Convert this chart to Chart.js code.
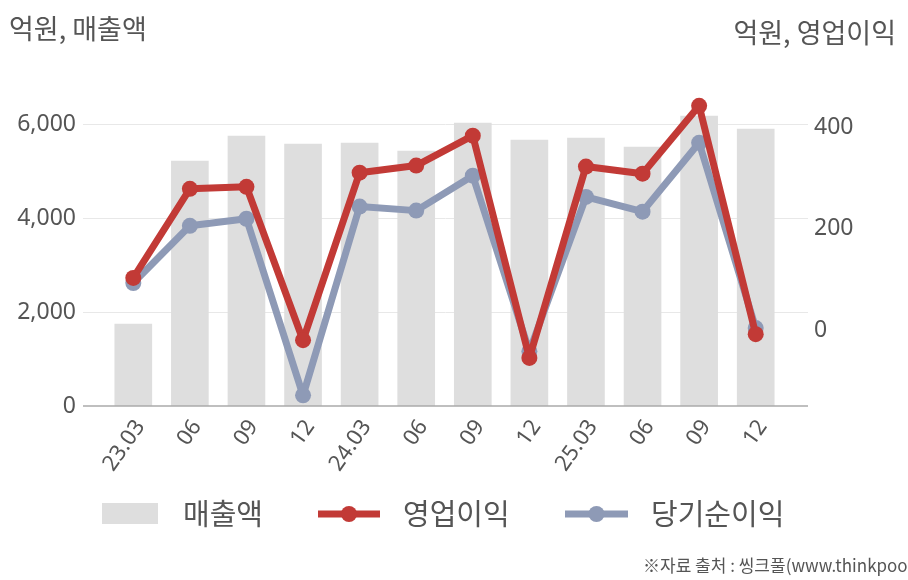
<!DOCTYPE html>
<html>
<head>
<meta charset="utf-8">
<script src="https://cdn.jsdelivr.net/npm/chart.js@4/dist/chart.umd.min.js"></script>
<style>
  html, body { margin: 0; padding: 0; background: #fff; }
  #wrap { width: 908px; height: 580px; }
</style>
</head>
<body>
<div id="wrap"><canvas id="chart" width="908" height="580"></canvas></div>
<script>
"use strict";

const quarters = ['23.03', '06', '09', '12', '24.03', '06', '09', '12', '25.03', '06', '09', '12'];
const revenue = [1745, 5213, 5745, 5574, 5596, 5426, 6021, 5660, 5702, 5511, 6170, 5894];
const operatingProfit = [103, 279, 283, -20, 311, 325, 384, -55, 323, 309, 443, -8];
const netProfit = [93, 206, 220, -129, 244, 236, 305, -42, 263, 234, 370, 4];
const leftTicks = [0, 2000, 4000, 6000];
const rightTicks = [0, 200, 400];

const textColor = '#555';
const numFont = '"Noto Sans", sans-serif';
const krFont = '"Noto Sans CJK KR", sans-serif';
const barColor = '#dedede';
const redColor = '#c23a36';
const blueColor = '#8e9ab6';

// grid lines reach a bit past the plot, so draw them ourselves
const extras = {
  id: 'extras',
  beforeDatasetsDraw: (chart) => {
    const { ctx } = chart;
    const y = chart.scales.y;
    ctx.save();
    ctx.strokeStyle = '#e8e8e8';
    ctx.lineWidth = 1;
    leftTicks.slice(1).forEach((v) => {
      const py = Math.round(y.getPixelForValue(v)) + 0.5;
      ctx.beginPath();
      ctx.moveTo(83, py);
      ctx.lineTo(808, py);
      ctx.stroke();
    });
    ctx.restore();
  },
  afterDatasetsDraw: (chart) => {
    const { ctx } = chart;
    const py = chart.scales.y.getPixelForValue(0);
    ctx.save();
    ctx.strokeStyle = '#aaa';
    ctx.lineWidth = 1.5;
    ctx.beginPath();
    ctx.moveTo(83, py);
    ctx.lineTo(808, py);
    ctx.stroke();
    ctx.restore();
  },
  afterDraw: (chart) => {
    const { ctx } = chart;
    ctx.save();
    ctx.fillStyle = textColor;
    ctx.textBaseline = 'middle';
    ctx.font = '27px ' + krFont;
    ctx.textAlign = 'left';
    ctx.fillText('억원, 매출액', 9, 29);
    ctx.textAlign = 'right';
    ctx.fillText('억원, 영업이익', 896, 33);

    // legend
    const ly = 514;
    ctx.fillStyle = barColor;
    ctx.fillRect(102, 503, 56, 21);
    const lineItem = (x0, x1, color) => {
      ctx.strokeStyle = color;
      ctx.lineWidth = 7;
      ctx.beginPath();
      ctx.moveTo(x0, ly);
      ctx.lineTo(x1, ly);
      ctx.stroke();
      ctx.fillStyle = color;
      ctx.beginPath();
      ctx.arc((x0 + x1) / 2, ly, 8, 0, Math.PI * 2);
      ctx.fill();
    };
    lineItem(318, 380, redColor);
    lineItem(565, 628, blueColor);
    ctx.fillStyle = textColor;
    ctx.font = '29px ' + krFont;
    ctx.textAlign = 'left';
    ctx.fillText('매출액', 183, ly);
    ctx.fillText('영업이익', 403, ly);
    ctx.fillText('당기순이익', 651, ly);

    ctx.font = '17px ' + krFont;
    ctx.fillText('※자료 출처 : 씽크풀(www.thinkpool.com)', 643, 566);
    ctx.restore();
  },
};

const lineStyle = {
  type: 'line',
  yAxisID: 'y1',
  borderWidth: 7,
  borderJoinStyle: 'round',
  borderCapStyle: 'round',
  pointRadius: 8,
  pointBorderWidth: 0,
  tension: 0,
};

new Chart(document.getElementById('chart'), {
  data: {
    labels: quarters,
    datasets: [
      {
        ...lineStyle,
        label: '영업이익',
        data: operatingProfit,
        borderColor: redColor,
        backgroundColor: redColor,
        order: 1,
      },
      {
        ...lineStyle,
        label: '당기순이익',
        data: netProfit,
        borderColor: blueColor,
        backgroundColor: blueColor,
        order: 2,
      },
      {
        type: 'bar',
        label: '매출액',
        data: revenue,
        yAxisID: 'y',
        backgroundColor: barColor,
        barThickness: 37,
        order: 3,
      },
    ],
  },
  options: {
    responsive: false,
    animation: false,
    layout: { padding: { top: 77, left: 0, right: 0, bottom: 0 } },
    plugins: {
      legend: { display: false },
      tooltip: { enabled: false },
    },
    scales: {
      x: {
        offset: true,
        grid: { display: false },
        border: { display: false },
        ticks: {
          color: textColor,
          font: { family: numFont, size: 22 },
          autoSkip: false,
          minRotation: 55,
          maxRotation: 55,
          padding: 1,
          labelOffset: 7,
        },
        afterFit: (scale) => { scale.height = 174; },
      },
      y: {
        position: 'left',
        min: 0,
        max: 7000,
        grid: { display: false },
        border: { display: false },
        afterBuildTicks: (scale) => { scale.ticks = leftTicks.map((v) => ({ value: v })); },
        ticks: {
          color: textColor,
          font: { family: numFont, size: 23 },
          padding: 21,
          callback: (v) => Number(v).toLocaleString('en-US'),
        },
        afterFit: (scale) => { scale.width = 105; },
      },
      y1: {
        position: 'right',
        min: -150,
        max: 500,
        grid: { display: false },
        border: { display: false },
        afterBuildTicks: (scale) => { scale.ticks = rightTicks.map((v) => ({ value: v })); },
        ticks: {
          color: textColor,
          font: { family: numFont, size: 23 },
          padding: 22,
        },
        afterFit: (scale) => { scale.width = 124; },
      },
    },
  },
  plugins: [extras],
});
</script>
</body>
</html>
